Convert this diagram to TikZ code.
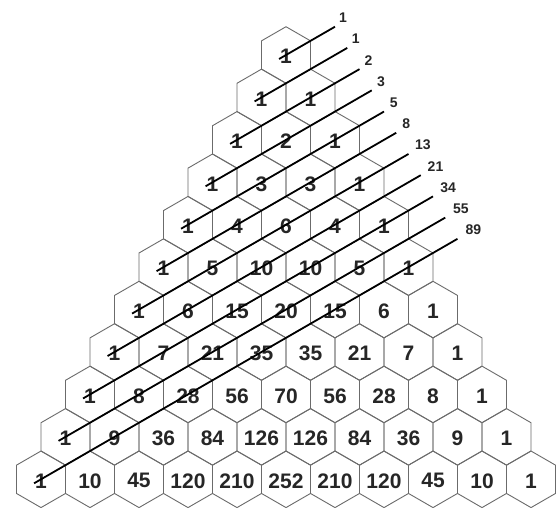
\documentclass[tikz,border=0pt]{standalone}
\usepackage{fontspec}
\setmainfont{Liberation Sans}
\begin{document}
\begin{tikzpicture}[x=1pt,y=-1pt,
  hexedge/.style={draw=black!58, line width=0.9pt, line join=round},
  num/.style={font=\fontsize{21}{21}\selectfont\bfseries, text=black!85, inner sep=0pt},
  fibline/.style={line width=1.8pt, draw=black},
  fiblabel/.style={font=\fontsize{14}{14}\selectfont\bfseries, text=black!85, inner sep=0pt, anchor=west}]
\useasboundingbox[fill=white] (0,0) rectangle (559,508);
\def\R{28.29}
\foreach \row [count=\r from 0] in {{1},{1,1},{1,2,1},{1,3,3,1},{1,4,6,4,1},{1,5,10,10,5,1},{1,6,15,20,15,6,1},{1,7,21,35,35,21,7,1},{1,8,28,56,70,56,28,8,1},{1,9,36,84,126,126,84,36,9,1},{1,10,45,120,210,252,210,120,45,10,1}}{
  \foreach \v [count=\k from 0] in \row {
    \pgfmathsetmacro\cx{286+(\k-\r/2)*49}
    \pgfmathsetmacro\cy{55+\r*42.43}
    \draw[hexedge] (\cx,\cy) +(90:\R) -- +(150:\R) -- +(210:\R) -- +(270:\R) -- +(330:\R) -- +(30:\R) -- cycle;
    \node[num] (n-\r-\k) at (\cx,\cy+1.5) {\v};
  }
}
\foreach \f [count=\n from 0] in {1,1,2,3,5,8,13,21,34,55,89}{
  \pgfmathsetmacro\cx{286-24.5*\n}
  \pgfmathsetmacro\cy{55+42.43*\n}
  \pgfmathsetmacro\t{\R*(2+1.5*\n)}
  \pgfmathsetmacro\sx{\cx-6.93}
  \pgfmathsetmacro\sy{\cy+4}
  \pgfmathsetmacro\ex{\cx+0.866*\t}
  \pgfmathsetmacro\ey{\cy-0.5*\t}
  \pgfmathsetmacro\lx{\ex+4+0.4*\n}
  \pgfmathsetmacro\ly{\ey-9}
  \coordinate (s\n) at (\sx,\sy);
  \coordinate (e\n) at (\ex,\ey);
  \draw[fibline] (s\n) -- (e\n);
  \node[fiblabel] (f\n) at (\lx,\ly) {\f};
}
\end{tikzpicture}
\end{document}
